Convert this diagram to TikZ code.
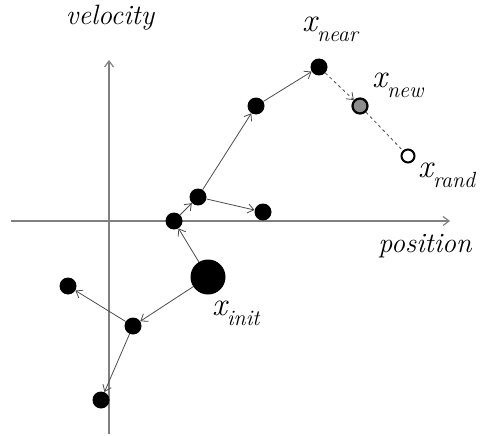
\documentclass[tikz,border=0pt]{standalone}
\usetikzlibrary{arrows.meta}

\newcommand{\xlab}[1]{{\fontsize{33}{33}\selectfont\itshape x}\raisebox{-10pt}{\fontsize{22}{22}\selectfont\itshape #1}}

\begin{document}
\begin{tikzpicture}[x=1pt, y=-1pt, >={Straight Barb[length=6pt,width=9pt]},
  pt/.style={circle, fill=black, minimum size=17pt, inner sep=0pt},
  big/.style={pt, minimum size=35pt},
  newpt/.style={circle, draw=black, line width=2.2pt, fill=black!45, minimum size=15pt, inner sep=0pt},
  randpt/.style={circle, draw=black, line width=2pt, fill=white, minimum size=13pt, inner sep=0pt},
  axis/.style={->, line width=1.2pt, draw=black!50},
  edge/.style={->, line width=0.8pt, draw=black!70},
  lab/.style={inner sep=0pt, anchor=base west}
]
\useasboundingbox (0,0) rectangle (482,436);
% axes
\coordinate (h0) at (11,221);
\coordinate (h1) at (450,221);
\coordinate (v0) at (109,434);
\coordinate (v1) at (109,60);
\draw[axis] (h0) -- (h1);
\draw[axis] (v0) -- (v1);
\node[font=\fontsize{28}{28}\selectfont\itshape] (vel) at (110,18) {velocity};
\node[font=\fontsize{28}{28}\selectfont\itshape] (pos) at (425,246) {position};
% tree
\node[big] (init) at (208,277) {};
\node[pt] (n1) at (174,221) {};
\node[pt] (n2) at (198,197) {};
\node[pt] (n3) at (263,212) {};
\node[pt] (n4) at (256,106) {};
\node[pt] (near) at (319,67) {};
\node[pt] (n5) at (133,326) {};
\node[pt] (n6) at (68,286) {};
\node[pt] (n7) at (101,400) {};
\node[newpt] (new) at (360,106) {};
\node[randpt] (rand) at (408,156) {};
\draw[edge] (init) -- (n1);
\draw[edge] (n1) -- (n2);
\draw[edge] (n2) -- (n3);
\draw[edge] (n2) -- (n4);
\draw[edge] (n4) -- (near);
\draw[edge] (init) -- (n5);
\draw[edge] (n5) -- (n6);
\draw[edge] (n5) -- (n7);
\draw[edge, dashed] (near) -- (new);
\draw[line width=0.8pt, draw=black!70, dashed] (new) -- (rand);
% labels
\node[lab] (lnear) at (302,32) {\xlab{near}};
\node[lab] (lnew) at (372,88) {\xlab{new}};
\node[lab] (lrand) at (418,177) {\xlab{rand}};
\node[lab] (linit) at (212,315) {\xlab{init}};
\end{tikzpicture}
\end{document}
